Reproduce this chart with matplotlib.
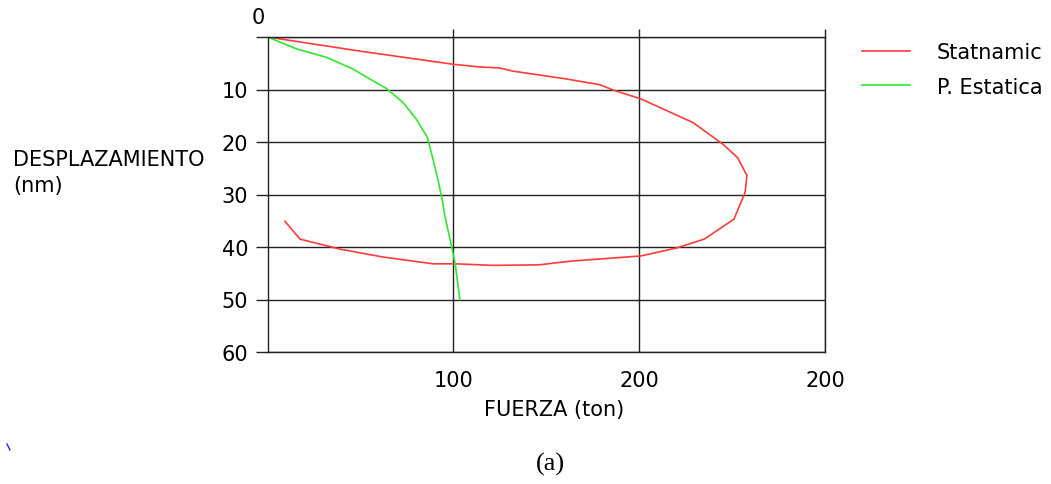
import matplotlib
matplotlib.use("Agg")
import matplotlib.pyplot as plt
from matplotlib.lines import Line2D

# ---- data ----
stat_force = [0, 50, 100, 114, 125, 132, 161, 179, 186, 201, 229, 245, 253, 258, 257,
              251, 235, 220, 201, 163, 146, 121, 101, 89, 62, 39, 17.5, 9.4]
stat_disp = [0, 2.7, 5.2, 5.7, 5.9, 6.5, 8.0, 9.1, 10.1, 11.8, 16.3, 20.4, 23.0, 26.4, 29.6,
             34.7, 38.5, 40.2, 41.7, 42.7, 43.4, 43.5, 43.2, 43.2, 41.9, 40.4, 38.5, 35.1]
est_force = [0, 15.9, 32, 46, 55, 64, 73, 80, 86, 89, 91.6, 94, 95.4, 99, 101, 103.5]
est_disp = [0, 2.3, 3.9, 6.1, 8.0, 9.8, 12.5, 15.6, 19.1, 23.2, 27.0, 30.9, 34.0, 39.8, 43.2, 50.0]

x_ticks = [100, 200, 300]
x_tick_labels = ["100", "200", "200"]
y_ticks = [0, 10, 20, 30, 40, 50, 60]
y_tick_labels = ["", "10", "20", "30", "40", "50", "60"]

plt.rcParams["font.family"] = ["DejaVu Sans"]
FS = 15

W, H = 1051, 485
fig = plt.figure(figsize=(W / 100, H / 100), dpi=100)
ax = fig.add_axes([267.5 / W, 1 - 353 / H, (825 - 267.5) / W, (353 - 38) / H])

ax.plot(stat_force, stat_disp, color="#ff3b3b", lw=1.2, label="Statnamic")
ax.plot(est_force, est_disp, color="#2ee82e", lw=1.2, label="P. Estatica")

ax.set_xlim(0, 300)
ax.set_ylim(60, 0)
ax.set_xticks(x_ticks)
ax.set_xticklabels(x_tick_labels)
ax.set_yticks(y_ticks)
ax.set_yticklabels(y_tick_labels)
ax.grid(True, color="#222222", lw=1.0)
for s in ax.spines.values():
    s.set_color("#222222")
    s.set_linewidth(1.0)

ax.tick_params(axis="y", length=9, width=1.0, color="#222222", labelsize=FS, pad=5)
ax.tick_params(axis="x", top=True, bottom=False, labelbottom=True, length=6,
               width=1.0, color="#222222", labelsize=FS, pad=7, direction="out")

fig.text(258 / W, 1 - 18 / H, "0", ha="center", va="center", fontsize=FS)

fig.text(13 / W, 1 - 160 / H, "DESPLAZAMIENTO", ha="left", va="center", fontsize=FS)
fig.text(13 / W, 1 - 186 / H, "(nm)", ha="left", va="center", fontsize=FS)
fig.text(554 / W, 1 - 410 / H, "FUERZA (ton)", ha="center", va="center", fontsize=FS)
fig.text(550 / W, 1 - 464 / H, "(a)", ha="center", va="center", fontsize=19,
         family="Liberation Serif")

# tiny stray mark at lower-left of the original figure
fig.add_artist(Line2D([7 / W, 10 / W], [1 - 445 / H, 1 - 451 / H],
                      transform=fig.transFigure, color="#2222ff", lw=1.0))

leg = ax.legend(loc="upper left", bbox_to_anchor=(862 / W, 1 - 43 / H),
                bbox_transform=fig.transFigure, frameon=False, fontsize=FS,
                handlelength=2.3, handletextpad=1.3, labelspacing=0.7,
                borderpad=0, borderaxespad=0)

fig.savefig("out.png", dpi=100)
